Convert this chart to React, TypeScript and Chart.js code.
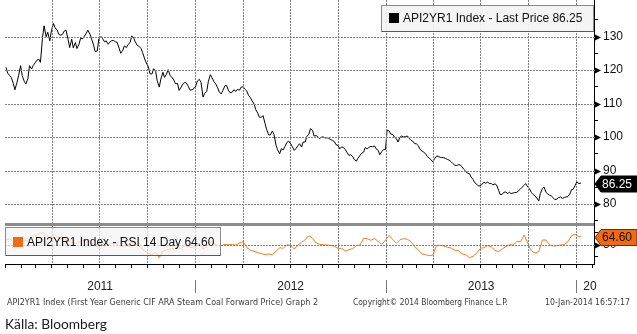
import React, { useEffect, useRef } from 'react';
import { Chart, registerables } from 'chart.js';

Chart.register(...registerables);

// ---- data; x = days since 2011-01-01 ----
// Monday samples from 2011-01-03 and Thursday samples from 2011-01-06
const FIRST_MON = 2; // 2011-01-03
const THU_OFFSET = 3;
const STEP_DAYS = 7;
const LAST_DAY = 1105; // 2014-01-10
const lastPrice = 86.25;
const lastRsi = 64.6;

const priceMon = [
  120.8, 118.3, 116.0, 116.3, 121.3, 116.6, 117.5, 120.3, 122.2, 123.2,
  129.7, 129.9, 128.7, 133.9, 132.0, 130.4, 131.7, 129.2, 129.2, 128.2,
  127.7, 129.3, 131.0, 130.7, 127.4, 125.7, 130.0, 128.4, 127.7, 128.8,
  128.4, 126.5, 125.9, 126.7, 128.2, 129.5, 127.3, 126.4, 123.3, 121.0,
  118.8, 119.6, 114.9, 119.3, 118.8, 118.3, 117.0, 116.0, 114.9, 116.3,
  115.0, 114.1, 115.2, 117.2, 111.9, 113.6, 118.6, 116.5, 114.7, 112.9,
  115.3, 113.8, 113.4, 113.6, 114.0, 115.0, 113.7, 111.7, 109.8, 107.1,
  105.9, 104.0, 100.6, 101.8, 97.5, 95.0, 96.2, 98.4, 98.0, 96.0,
  97.4, 97.0, 98.5, 100.8, 102.0, 100.4, 99.5, 100.0, 99.8, 99.2,
  98.6, 97.5, 97.0, 96.2, 94.5, 94.2, 92.8, 94.5, 95.5, 96.5,
  97.2, 97.3, 96.0, 95.7, 96.3, 101.8, 100.7, 99.5, 100.0, 100.0,
  100.3, 99.0, 98.0, 97.4, 95.8, 95.0, 93.7, 92.6, 94.3, 93.9,
  93.8, 93.3, 92.6, 91.6, 91.7, 91.1, 89.8, 89.1, 87.3, 85.9,
  85.4, 86.5, 86.6, 86.1, 86.0, 84.1, 82.9, 83.6, 83.5, 83.3,
  83.5, 84.5, 85.6, 85.1, 83.4, 82.4, 80.9, 84.6, 83.5, 82.6,
  81.8, 81.5, 82.1, 81.9, 82.2, 84.3, 85.6, 86.1,
];

const priceThu = [
  119.1, 117.8, 114.1, 118.3, 118.3, 115.8, 121.3, 121.3, 122.9, 122.3,
  133.2, 131.3, 131.7, 132.6, 130.7, 130.6, 131.9, 126.7, 126.6, 126.4,
  129.5, 130.0, 131.9, 129.3, 125.5, 129.3, 129.4, 128.7, 128.3, 128.8,
  128.3, 125.0, 127.2, 127.6, 130.2, 128.4, 127.1, 125.2, 122.1, 118.9,
  120.4, 116.8, 117.3, 117.8, 120.1, 117.9, 115.9, 113.9, 115.8, 116.1,
  114.0, 114.4, 116.7, 116.3, 113.0, 116.5, 117.7, 115.9, 113.4, 113.9,
  115.4, 113.2, 114.1, 114.2, 114.9, 114.3, 112.5, 110.8, 108.2, 105.9,
  106.4, 102.2, 100.6, 100.8, 96.2, 96.5, 97.2, 98.8, 97.2, 96.5,
  98.0, 98.5, 100.2, 102.5, 100.3, 100.1, 100.0, 99.7, 99.6, 99.0,
  97.7, 96.5, 96.9, 95.4, 94.7, 93.3, 93.6, 95.1, 96.8, 96.9,
  97.1, 96.5, 94.7, 96.2, 102.1, 100.9, 100.0, 98.5, 100.3, 100.1,
  99.7, 98.8, 98.0, 96.4, 95.5, 94.2, 93.2, 93.5, 94.3, 93.9,
  93.6, 93.1, 92.1, 91.5, 91.7, 90.4, 89.2, 88.1, 86.4, 85.4,
  85.9, 86.2, 86.1, 85.7, 85.7, 82.8, 83.5, 83.1, 83.1, 83.4,
  83.9, 85.0, 86.1, 84.6, 82.9, 81.8, 83.1, 85.1, 83.0, 82.4,
  81.3, 81.9, 81.7, 82.1, 82.8, 84.4, 86.6,
];

const rsiWeekly = [
  58.3, 60.0, 55.6, 54.4, 61.0, 56.7, 58.3, 63.9, 65.6, 67.8,
  71.1, 66.7, 62.2, 67.8, 63.9, 60.0, 61.1, 56.7, 54.4, 52.8,
  54.4, 56.7, 58.3, 55.6, 50.0, 47.2, 54.4, 52.8, 51.1, 53.3,
  52.2, 48.9, 47.2, 48.9, 52.8, 54.4, 50.0, 45.6, 40.0, 36.1,
  34.4, 37.8, 28.9, 40.0, 41.7, 43.3, 44.4, 45.6, 44.4, 48.9,
  47.2, 45.6, 48.9, 52.8, 43.3, 47.2, 55.6, 52.8, 48.9, 48.9,
  51.1, 50.6, 50.6, 50.0, 53.3, 55.6, 45.6, 41.1, 39.4, 37.2,
  35.6, 33.9, 35.0, 33.9, 39.4, 45.6, 44.4, 50.6, 48.9, 43.3,
  50.0, 54.4, 58.9, 65.6, 61.1, 53.3, 51.1, 50.6, 50.0, 49.4,
  47.8, 44.4, 44.4, 40.0, 42.2, 43.9, 48.9, 50.0, 61.1, 60.6,
  57.8, 61.1, 55.6, 51.1, 58.3, 66.0, 58.9, 52.8, 58.9, 60.6,
  59.4, 55.6, 47.2, 41.7, 35.0, 33.9, 32.2, 33.3, 49.4, 49.4,
  48.3, 46.1, 45.0, 41.1, 41.1, 35.0, 33.9, 28.9, 31.1, 36.7,
  44.4, 45.6, 48.9, 46.7, 41.1, 38.9, 43.3, 47.2, 50.6, 50.0,
  55.6, 55.6, 66.7, 52.8, 40.0, 36.7, 38.9, 58.3, 58.3, 50.0,
  48.3, 48.9, 50.0, 50.6, 55.6, 65.6, 67.8, 63.9,
];

const priceLabelTicks = [80, 90, 100, 110, 120, 130];
const priceMinorTicks = [75, 85, 95, 105, 115, 125, 135];
const rsiLabelTicks = [50];
const rsiMinorTicks = [30, 70];
const yearLabels = ['2011', '2012', '2013', '2014'];
const yearStartDays = [0, 365, 731, 1096, 1461];

const legendPrice = 'API2YR1 Index - Last Price 86.25';
const legendRsi = 'API2YR1 Index - RSI 14 Day 64.60';
const footLeft = 'API2YR1 Index (First Year Generic CIF ARA Steam Coal Forward Price) Graph 2';
const footMid = 'Copyright\u00A9 2014 Bloomberg Finance L.P.';
const footRight = '10-Jan-2014 16:57:17';
const source = 'K\u00E4lla: Bloomberg';

const dayMs = 86400000;
const monthStarts: number[] = [];
for (let k = 0; k <= 37; k++) {
  monthStarts.push((Date.UTC(2011, k, 1) - Date.UTC(2011, 0, 1)) / dayMs);
}

const priceData: { x: number; y: number }[] = [];
priceMon.forEach((v, i) => {
  priceData.push({ x: FIRST_MON + STEP_DAYS * i, y: v });
  if (i < priceThu.length) priceData.push({ x: FIRST_MON + STEP_DAYS * i + THU_OFFSET, y: priceThu[i] });
});
priceData.push({ x: LAST_DAY, y: lastPrice });

const rsiData = rsiWeekly
  .map((v, i) => ({ x: FIRST_MON + STEP_DAYS * i, y: v }))
  .concat([{ x: LAST_DAY, y: lastRsi }]);

const GRID = '#808080';
const ORANGE = '#f47b20';
const LBL_FONT = '"Liberation Sans", Arial, sans-serif';

function fitText(ctx: CanvasRenderingContext2D, text: string, x: number, y: number, w: number, font: string) {
  ctx.font = font;
  const m = ctx.measureText(text).width;
  ctx.save();
  ctx.translate(x, y);
  ctx.scale(w / m, 1);
  ctx.fillText(text, 0, 0);
  ctx.restore();
}

// dotted line drawn as small squares so it stays crisp
function dotted(ctx: CanvasRenderingContext2D, x0: number, y0: number, x1: number, y1: number) {
  if (y0 === y1) {
    for (let x = Math.ceil(x0); x < x1; x += 3) ctx.fillRect(x, y0, 2, 1);
  } else {
    for (let y = Math.ceil(y0); y < y1; y += 3) ctx.fillRect(x0, y, 1, 2);
  }
}

const noPad = (s: any) => {
  s.paddingTop = 0;
  s.paddingBottom = 0;
  s.paddingLeft = 0;
  s.paddingRight = 0;
};

const overlay = {
  id: 'overlay',
  afterDraw(chart: any) {
    const { ctx, chartArea: ca, scales } = chart;
    const xs = scales.x, yP = scales.yP, yR = scales.yR;
    ctx.save();

    // dotted grid lines, positioned through the chart scales
    ctx.fillStyle = GRID;
    monthStarts.forEach((d, k) => {
      if (k === 0 || k % 3 !== 0) return;
      const px = Math.round(xs.getPixelForValue(d));
      dotted(ctx, px, ca.top, px, ca.bottom);
    });
    priceLabelTicks.forEach((v) => {
      const py = Math.round(yP.getPixelForValue(v));
      dotted(ctx, ca.left, py, ca.right, py);
    });
    rsiLabelTicks.forEach((v) => {
      const py = Math.round(yR.getPixelForValue(v));
      dotted(ctx, ca.left, py, ca.right, py);
    });

    // panel separator
    ctx.fillStyle = '#8c8c8c';
    ctx.fillRect(ca.left, Math.round(yP.bottom) - 1, ca.right - ca.left, 3);

    // upper legend box
    ctx.fillStyle = 'rgba(243,243,243,0.92)';
    ctx.fillRect(381, 5, 213, 27);
    ctx.strokeStyle = '#8a8a8a';
    ctx.lineWidth = 1;
    ctx.strokeRect(381.5, 5.5, 212, 26);
    ctx.strokeStyle = '#5a5a5a';
    ctx.beginPath();
    ctx.moveTo(382, 31.5); ctx.lineTo(593.5, 31.5); ctx.stroke();
    ctx.fillStyle = '#000';
    ctx.fillRect(389, 13, 10, 10);
    ctx.font = '12px ' + LBL_FONT;
    ctx.textBaseline = 'middle';
    ctx.textAlign = 'left';
    ctx.fillStyle = '#111';
    ctx.fillText(legendPrice, 403, 19);

    // lower legend box
    ctx.fillStyle = 'rgba(244,244,244,0.72)';
    ctx.fillRect(5, 227, 216, 29);
    ctx.strokeStyle = '#8a8a8a';
    ctx.strokeRect(5.5, 227.5, 215, 28);
    ctx.strokeStyle = '#5a5a5a';
    ctx.beginPath();
    ctx.moveTo(6, 255.5); ctx.lineTo(220.5, 255.5); ctx.stroke();
    ctx.fillStyle = '#f26a12';
    ctx.fillRect(13, 237, 10, 10);
    ctx.fillStyle = '#111';
    ctx.fillText(legendRsi, 27, 242.5);

    // arrow heads on right axis
    ctx.fillStyle = '#000';
    const arrow = (y: number) => {
      ctx.beginPath();
      ctx.moveTo(ca.right + 1, y - 3);
      ctx.lineTo(ca.right + 7, y);
      ctx.lineTo(ca.right + 1, y + 3);
      ctx.closePath();
      ctx.fill();
    };
    priceLabelTicks.forEach((v) => arrow(Math.round(yP.getPixelForValue(v)) + 0.5));
    rsiLabelTicks.forEach((v) => arrow(Math.round(yR.getPixelForValue(v)) + 0.5));

    // last value tags
    const tag = (y: number, fill: string, stroke: string, color: string, text: string) => {
      ctx.beginPath();
      ctx.moveTo(ca.right + 1, y);
      ctx.lineTo(ca.right + 7, y - 8);
      ctx.lineTo(637, y - 8);
      ctx.lineTo(637, y + 8);
      ctx.lineTo(ca.right + 7, y + 8);
      ctx.closePath();
      ctx.fillStyle = fill;
      ctx.fill();
      ctx.strokeStyle = stroke;
      ctx.stroke();
      ctx.fillStyle = color;
      ctx.font = '12px ' + LBL_FONT;
      ctx.textBaseline = 'middle';
      ctx.fillText(text, ca.right + 8, y + 0.5);
    };
    tag(Math.round(yP.getPixelForValue(lastPrice)) + 1, '#000', '#000', '#fff', lastPrice.toFixed(2));
    tag(Math.round(yR.getPixelForValue(lastRsi)) + 1.5, '#f26a10', '#6a3000', '#111', lastRsi.toFixed(2));

    // year separators and labels
    ctx.strokeStyle = '#777';
    for (let i = 1; i < yearLabels.length; i++) {
      const px = Math.round(xs.getPixelForValue(yearStartDays[i])) + 0.5;
      ctx.beginPath();
      ctx.moveTo(px, 280); ctx.lineTo(px, 293); ctx.stroke();
    }
    ctx.fillStyle = '#1a1a1a';
    ctx.font = '12px ' + LBL_FONT;
    ctx.textBaseline = 'middle';
    ctx.save();
    ctx.beginPath();
    ctx.rect(0, 270, ca.right + 3, 30);
    ctx.clip();
    for (let i = 0; i < yearLabels.length; i++) {
      const a = xs.getPixelForValue(yearStartDays[i]);
      const b = xs.getPixelForValue(yearStartDays[i + 1]);
      if (b <= ca.right) {
        ctx.textAlign = 'center';
        ctx.fillText(yearLabels[i], (a + b) / 2, 287);
      } else {
        ctx.textAlign = 'left';
        ctx.fillText(yearLabels[i], a + 7, 287);
      }
    }
    ctx.restore();

    // footers
    ctx.textAlign = 'left';
    ctx.textBaseline = 'middle';
    ctx.fillStyle = '#3a3a3a';
    const ff = '8px "DejaVu Sans", sans-serif';
    fitText(ctx, footLeft, 7, 302.5, 311, ff);
    fitText(ctx, footMid, 353, 302.5, 155, ff);
    fitText(ctx, footRight, 545, 302.5, 85, ff);
    ctx.fillStyle = '#1a1a1a';
    fitText(ctx, source, 5, 324, 102, '14px Lato, "Open Sans", sans-serif');

    ctx.restore();
  },
};

export default function App() {
  const ref = useRef<HTMLCanvasElement | null>(null);
  useEffect(() => {
    const canvas = ref.current;
    if (!canvas) return;
    const chart = new Chart(canvas, {
      type: 'line',
      data: {
        datasets: [
          { data: priceData, yAxisID: 'yP', borderColor: '#000', borderWidth: 1, pointRadius: 0, tension: 0 } as any,
          { data: rsiData, yAxisID: 'yR', borderColor: ORANGE, borderWidth: 1, pointRadius: 0, tension: 0 } as any,
        ],
      },
      options: {
        animation: false,
        responsive: false,
        devicePixelRatio: 1,
        parsing: false as any,
        layout: { padding: { left: 5, top: 0, right: 0, bottom: 38 } },
        plugins: { legend: { display: false }, tooltip: { enabled: false } },
        scales: {
          x: {
            type: 'linear',
            min: 0,
            max: 1130,
            afterBuildTicks: (s: any) => { s.ticks = monthStarts.map((v) => ({ value: v })); },
            afterFit: (s: any) => { s.height = 32; noPad(s); },
            ticks: { display: false },
            grid: {
              drawOnChartArea: false,
              drawTicks: true,
              tickLength: 4,
              tickColor: '#000',
            },
            border: { display: true, color: '#000', width: 1 },
          },
          yP: {
            type: 'linear',
            position: 'right',
            stack: 'panels',
            stackWeight: 224,
            min: 74.03,
            max: 140.9,
            afterBuildTicks: (s: any) => {
              s.ticks = priceMinorTicks.concat(priceLabelTicks).sort((a, b) => a - b).map((v) => ({ value: v }));
            },
            afterFit: (s: any) => { s.width = 43; noPad(s); },
            ticks: {
              autoSkip: false,
              padding: 5,
              color: '#111',
              font: { family: LBL_FONT, size: 12 },
              callback: (v: any) => (priceLabelTicks.includes(Number(v)) ? String(v) : ''),
            },
            grid: { drawOnChartArea: false, tickLength: 4, tickColor: '#000' },
            border: { display: true, color: '#000', width: 1 },
          },
          yR: {
            type: 'linear',
            position: 'right',
            stack: 'panels',
            stackWeight: 40,
            min: 18.3,
            max: 85,
            afterBuildTicks: (s: any) => {
              s.ticks = rsiMinorTicks.concat(rsiLabelTicks).sort((a, b) => a - b).map((v) => ({ value: v }));
            },
            afterFit: (s: any) => { s.width = 43; noPad(s); },
            ticks: {
              autoSkip: false,
              padding: 5,
              color: '#111',
              font: { family: LBL_FONT, size: 12 },
              callback: (v: any) => (rsiLabelTicks.includes(Number(v)) ? String(v) : ''),
            },
            grid: { drawOnChartArea: false, tickLength: 4, tickColor: '#000' },
            border: { display: true, color: '#000', width: 1 },
          },
        } as any,
      },
      plugins: [overlay],
    });
    return () => chart.destroy();
  }, []);

  return (
    <div style={{ position: 'absolute', left: 0, top: 0, width: 637, height: 334, background: '#fff' }}>
      <canvas ref={ref} width={637} height={334} style={{ display: 'block', width: 637, height: 334 }} />
    </div>
  );
}
